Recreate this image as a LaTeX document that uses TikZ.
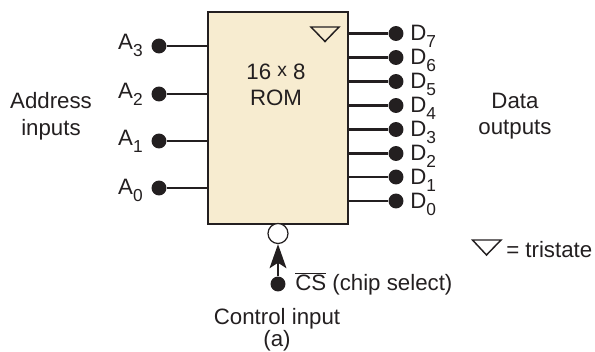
\documentclass[tikz,border=0pt]{standalone}
\usepackage{fontspec}
\setmainfont{Liberation Sans}
\usetikzlibrary{arrows.meta}
\definecolor{rombg}{HTML}{F7ECD0}
\definecolor{ink}{HTML}{231F20}
\tikzset{
  x=0.75pt,y=-0.75pt,
  lbl/.style={text=ink,font=\fontsize{16.7}{20}\selectfont,inner sep=0pt,align=center},
  pin/.style={circle,fill=ink,draw=none,minimum size=11.2pt,inner sep=0pt},
  wire/.style={draw=ink,line width=2.1pt},
  tri/.style={draw=ink,line width=1.1pt,line join=miter,fill=none}
}
\newcommand{\subl}[2]{#1\raisebox{-0.32em}{\fontsize{13}{13}\selectfont #2}}
\newcommand{\ovl}[1]{\vbox{\hrule height 0.6pt\kern 1.4pt\hbox{#1}}}
\begin{document}
\begin{tikzpicture}
\useasboundingbox (0,0) rectangle (595,352);
\node[draw=ink,line width=1.5pt,fill=rombg,minimum width=105.5pt,minimum height=159pt,inner sep=0pt,anchor=north west] (rom) at (206.5,11) {};
\node[lbl,inner sep=0pt] (romt) at (276,85) {16 \raisebox{0.12em}{\fontsize{14.5}{14}\selectfont x} 8\\ROM};
\draw[tri] (311,27) -- (339,27) -- (325,41.5) -- cycle;
\foreach \n/\y/\ly in {3/46/45,2/94/94,1/141/141,0/188/190}{
  \node[pin] (a\n) at (159,\y) {};
  \coordinate (ae\n) at (206.5,\y);
  \draw[wire] (a\n) -- (ae\n);
  \node[lbl,anchor=east] (al\n) at (143,\ly) {\subl{A}{\n}};
}
\foreach \n/\y in {7/33.5,6/57.5,5/81.5,4/105.5,3/129.5,2/153.5,1/177,0/201}{
  \node[pin] (d\n) at (396,\y) {};
  \coordinate (de\n) at (347.5,\y);
  \draw[wire] (de\n) -- (d\n);
  \node[lbl,anchor=west] (dl\n) at (410,\y+3) {\subl{D}{\n}};
}
\node[lbl] (addr) at (51,116) {Address\\inputs};
\node[lbl] (data) at (515,116) {Data\\outputs};
\node[circle,draw=ink,line width=0.9pt,fill=white,minimum size=15pt,inner sep=0pt] (bub) at (278,233.5) {};
\node[pin] (cs) at (278,284) {};
\draw[wire,-{Stealth[length=18pt,width=12.5pt,inset=4pt]}] (cs) -- (bub);
\node[lbl,anchor=base west] (cst) at (295,291) {\ovl{CS} (chip select)};
\node[lbl] (ctl) at (277,318.5) {Control input};
\node[lbl] (cap) at (277,340.5) {(a)};
\draw[tri] (472.5,240) -- (501,240) -- (486.5,255) -- cycle;
\node[lbl,anchor=west] (tri) at (506,250) {= tristate};
\end{tikzpicture}
\end{document}
